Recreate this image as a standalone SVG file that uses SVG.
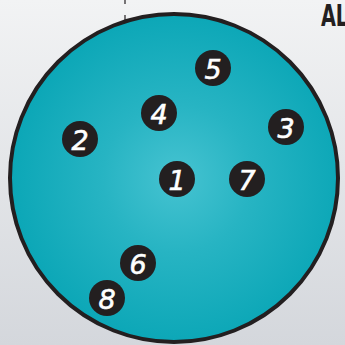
<svg xmlns="http://www.w3.org/2000/svg" width="345" height="345" viewBox="0 0 345 345">
<defs>
<linearGradient id="bg" x1="0" y1="0" x2="0" y2="1">
<stop offset="0" stop-color="#f2f3f4"/>
<stop offset="1" stop-color="#d4d7dc"/>
</linearGradient>
<radialGradient id="disc" cx="177" cy="178" r="165" gradientUnits="userSpaceOnUse">
<stop offset="0" stop-color="#46c3d1"/>
<stop offset="0.45" stop-color="#27b4c3"/>
<stop offset="1" stop-color="#0ca7b7"/>
</radialGradient>
<style>
.b circle{fill:#231f20}
.b text{fill:#fff;stroke:#fff;stroke-width:0.6;font-family:"DejaVu Sans",sans-serif;font-style:italic;font-size:27px;text-anchor:middle;dominant-baseline:central}
</style>
</defs>
<rect width="345" height="345" fill="url(#bg)"/>
<g id="ticks" stroke="#231f20" stroke-width="1.2">
<line x1="125" y1="0" x2="125" y2="4"/>
<line x1="125" y1="15" x2="125" y2="21"/>
</g>
<text x="321" y="26" font-family="DejaVu Sans" font-weight="bold" font-size="31" fill="#231f20" transform="translate(321 0) scale(0.62 1) translate(-321 0)">AL</text>
<g id="disc-node">
<circle cx="174" cy="178" r="164" fill="url(#disc)" stroke="#231f20" stroke-width="4"/>
</g>
<g id="connectors"/>
<g id="n1" class="b"><circle cx="177" cy="179" r="18"/><text x="177" y="180">1</text></g>
<g id="n2" class="b"><circle cx="80" cy="139" r="18"/><text x="80" y="140">2</text></g>
<g id="n3" class="b"><circle cx="286" cy="127" r="18"/><text x="286" y="128">3</text></g>
<g id="n4" class="b"><circle cx="159" cy="113" r="18"/><text x="159" y="114">4</text></g>
<g id="n5" class="b"><circle cx="213" cy="68" r="18"/><text x="213" y="69">5</text></g>
<g id="n6" class="b"><circle cx="138" cy="263" r="18"/><text x="138" y="264">6</text></g>
<g id="n7" class="b"><circle cx="247" cy="179" r="18"/><text x="247" y="180">7</text></g>
<g id="n8" class="b"><circle cx="107" cy="298" r="18"/><text x="107" y="299">8</text></g>
</svg>
